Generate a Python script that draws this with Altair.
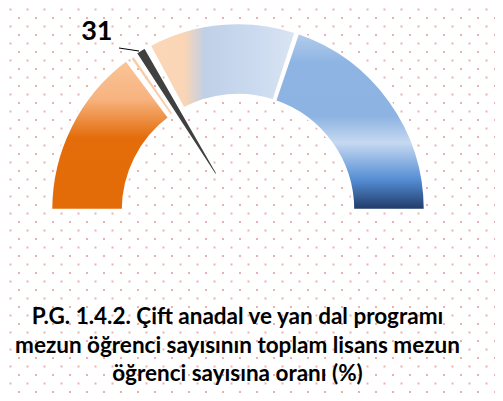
import math
import altair as alt
import pandas as pd

# ---- data ----
seg_names = ["orange", "light", "blue"]
seg_start = [0.0, 34.3, 60.4]
seg_end = [29.6, 60.0, 100.0]

needle_value = 31
needle_start = [31.7]
needle_end = [33.4]
sliver_start = [30.5]
sliver_end = [30.95]

title_lines = [
    "P.G. 1.4.2. Çift anadal ve yan dal programı",
    "mezun öğrenci sayısının toplam lisans mezun",
    "öğrenci sayısına oranı (%)",
]

# ---- layout ----
CX, CY = 230, 202
R_OUT, R_IN = 187, 115
theta_scale = alt.Scale(domain=[0, 100], range=[-math.pi / 2, math.pi / 2])

segs = pd.DataFrame({"name": seg_names, "start": seg_start, "end": seg_end})


def grad(stops, vertical=True):
    return alt.LinearGradient(
        gradient="linear",
        x1=0, y1=0,
        x2=0 if vertical else 1,
        y2=1 if vertical else 0,
        stops=[alt.GradientStop(offset=o, color=c) for o, c in stops],
    )


gradients = {
    "orange": grad([(0, "#FAC597"), (0.26, "#F7B380"), (0.52, "#E46C0A"), (1, "#E36C09")]),
    "light": grad([(0, "#FBD7B8"), (0.24, "#FAD5B5"), (0.38, "#BFD0E8"), (0.75, "#CCDBEF"),
                   (1, "#DAE5F3")], vertical=False),
    "blue": grad([(0, "#B4CDEB"), (0.17, "#8EB4E3"), (0.47, "#8DB3E2"), (0.62, "#C6D9F1"),
                  (0.83, "#548DD4"), (1, "#1F3864")]),
}

# background dot pattern
dots = (
    alt.Chart(alt.sequence(0, 46 * 29, as_="i"))
    .transform_calculate(row="floor(datum.i / 29)", col="datum.i % 29")
    .transform_calculate(
        py="1.5 + 8.5 * datum.row",
        px="(datum.row % 2 == 0 ? 2.5 : 11) + 17 * datum.col",
    )
    .mark_square(size=4, color="#EBB0B0", opacity=1)
    .encode(
        x=alt.X("px:Q", scale=None, axis=None),
        y=alt.Y("py:Q", scale=None, axis=None),
    )
)

layers = [dots]
for name in seg_names:
    layers.append(
        alt.Chart(segs)
        .transform_filter(alt.datum.name == name)
        .mark_arc(radius=R_OUT, radius2=R_IN, fill=gradients[name], stroke="white",
                  strokeWidth=2.5)
        .encode(
            theta=alt.Theta("start:Q", scale=theta_scale),
            theta2="end:Q",
            x=alt.value(CX),
            y=alt.value(CY),
        )
    )

sliver = (
    alt.Chart(pd.DataFrame({"start": sliver_start, "end": sliver_end}))
    .mark_arc(radius=R_OUT - 2, radius2=R_IN + 2, fill="#F9CDA9")
    .encode(theta=alt.Theta("start:Q", scale=theta_scale), theta2="end:Q",
            x=alt.value(CX), y=alt.value(CY))
)

needle = (
    alt.Chart(pd.DataFrame({"start": needle_start, "end": needle_end}))
    .mark_arc(radius=R_OUT, radius2=42, fill="#404040", stroke="white", strokeWidth=1.5)
    .encode(theta=alt.Theta("start:Q", scale=theta_scale), theta2="end:Q",
            x=alt.value(CX), y=alt.value(CY))
)

label = (
    alt.Chart(pd.DataFrame({"v": [needle_value]}))
    .mark_text(radius=228, dx=-13, dy=11, font="Lato", fontWeight="bold", fontSize=27,
               color="black")
    .encode(theta=alt.Theta("v:Q", scale=theta_scale), text="v:Q",
            x=alt.value(CX), y=alt.value(CY))
)

leader = (
    alt.Chart(pd.DataFrame({"v": [needle_value]}))
    .mark_rule(color="black", strokeWidth=1)
    .encode(x=alt.value(111), x2=alt.value(131), y=alt.value(40), y2=alt.value(43))
)

title = (
    alt.Chart(pd.DataFrame({"t": [0]}))
    .mark_text(text=title_lines, font="Lato", fontWeight="bold", fontSize=22.5,
               lineHeight=28.5, color="black", align="center", baseline="middle")
    .encode(x=alt.value(229.5), y=alt.value(309))
)

chart = (
    alt.layer(*layers, sliver, needle, leader, label, title)
    .properties(width=487, height=385, padding=0, autosize="none", background="white")
    .configure_view(stroke=None)
)

chart.save("out.html", embed_options={"renderer": "svg", "actions": False})
